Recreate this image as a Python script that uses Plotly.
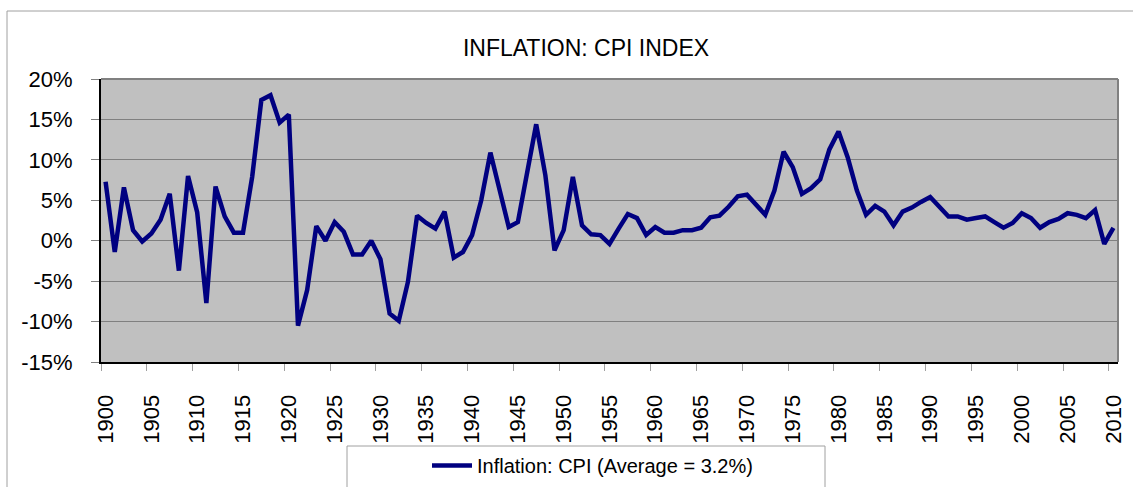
import plotly.graph_objects as go

years = list(range(1900, 2011))
cpi_inflation = [
    7.3, -1.4, 6.6, 1.3, -0.1, 0.9, 2.6, 5.8, -3.7, 8.0,      # 1900-1909
    3.5, -7.7, 6.7, 3.0, 1.0, 1.0, 7.9, 17.4, 18.0, 14.6,     # 1910-1919
    15.6, -10.5, -6.1, 1.8, 0.0, 2.3, 1.1, -1.7, -1.7, 0.0,   # 1920-1929
    -2.3, -9.0, -9.9, -5.1, 3.1, 2.2, 1.5, 3.6, -2.1, -1.4,   # 1930-1939
    0.7, 5.0, 10.9, 6.1, 1.7, 2.3, 8.3, 14.4, 8.1, -1.2,      # 1940-1949
    1.3, 7.9, 1.9, 0.8, 0.7, -0.4, 1.5, 3.3, 2.8, 0.7,        # 1950-1959
    1.7, 1.0, 1.0, 1.3, 1.3, 1.6, 2.9, 3.1, 4.2, 5.5,         # 1960-1969
    5.7, 4.4, 3.2, 6.2, 11.0, 9.1, 5.8, 6.5, 7.6, 11.3,       # 1970-1979
    13.5, 10.3, 6.2, 3.2, 4.3, 3.6, 1.9, 3.6, 4.1, 4.8,       # 1980-1989
    5.4, 4.2, 3.0, 3.0, 2.6, 2.8, 3.0, 2.3, 1.6, 2.2,         # 1990-1999
    3.4, 2.8, 1.6, 2.3, 2.7, 3.4, 3.2, 2.8, 3.8, -0.4,        # 2000-2009
    1.6,                                                      # 2010
]
x_tick_years = list(range(1900, 2011, 5))
y_ticks = [-15, -10, -5, 0, 5, 10, 15, 20]
y_tick_labels = ["-15%", "-10%", "-5%", "0%", "5%", "10%", "15%", "20%"]

title_text = "INFLATION: CPI INDEX"
series_name = "Inflation: CPI (Average = 3.2%)"

FONT = "Liberation Sans, Arial, sans-serif"

fig = go.Figure()
fig.add_trace(go.Scatter(
    x=years, y=cpi_inflation, mode="lines", name=series_name,
    line=dict(color="#000080", width=4.5),
))

W, H = 1133, 487
L, R, T, B = 101, 1118, 79, 362
pw, ph = R - L, B - T

def px(xp):
    return (xp - L) / pw

def py(yp):
    return (B - yp) / ph

fig.update_layout(
    width=W, height=H,
    margin=dict(l=L, r=W - R, t=T, b=H - B, pad=0, autoexpand=False),
    paper_bgcolor="white",
    plot_bgcolor="#C0C0C0",
    font=dict(family=FONT, color="black", size=20),
    title=dict(text=title_text, x=586 / W, xanchor="center",
               y=1 - 48 / H, yanchor="middle", yref="container",
               font=dict(size=23, family=FONT, color="black")),
    showlegend=True,
    legend=dict(x=px(427), xanchor="left", y=py(446), yanchor="top",
                bgcolor="rgba(0,0,0,0)", borderwidth=0,
                font=dict(size=20, family=FONT, color="black"),
                itemwidth=40),
    xaxis=dict(
        range=[1899.5, 2010.5], automargin=False,
        tickvals=x_tick_years, ticktext=[str(v) for v in x_tick_years],
        tickangle=-90, ticks="", showgrid=False, zeroline=False,
        showline=True, linecolor="black", linewidth=2,
        tickfont=dict(size=22, family=FONT, color="black"),
        ticklabelstandoff=22,
        minor=dict(ticks="outside", tickmode="linear", tick0=1899.5, dtick=5,
                   ticklen=7, tickcolor="#A0A0A0", tickwidth=1, showgrid=False),
    ),
    yaxis=dict(
        range=[-15, 20], automargin=False,
        tickvals=y_ticks, ticktext=y_tick_labels,
        ticks="outside", ticklen=8, tickcolor="#808080", tickwidth=1,
        showgrid=True, gridcolor="#808080", gridwidth=1, zeroline=False,
        showline=True, linecolor="black", linewidth=2,
        tickfont=dict(size=22, family=FONT, color="black"),
        ticklabelstandoff=14,
    ),
    shapes=[
        # outer chart border
        dict(type="rect", xref="paper", yref="paper",
             x0=px(7), x1=px(1140), y0=py(495), y1=py(11),
             line=dict(color="#A0A0A0", width=1), fillcolor="rgba(0,0,0,0)", layer="below"),
        # plot area top/right border
        dict(type="line", xref="paper", yref="paper", x0=0, x1=1, y0=1, y1=1,
             line=dict(color="#808080", width=2)),
        dict(type="line", xref="paper", yref="paper", x0=1, x1=1, y0=0, y1=1,
             line=dict(color="#808080", width=2)),
        # legend box
        dict(type="rect", xref="paper", yref="paper",
             x0=px(347), x1=px(825), y0=py(495), y1=py(446),
             line=dict(color="#A0A0A0", width=1), fillcolor="rgba(0,0,0,0)"),
    ],
)

fig.write_html(
    "out.html",
    config={"displayModeBar": False},
    post_script="document.body.style.margin='0';document.body.style.overflow='hidden';",
)
